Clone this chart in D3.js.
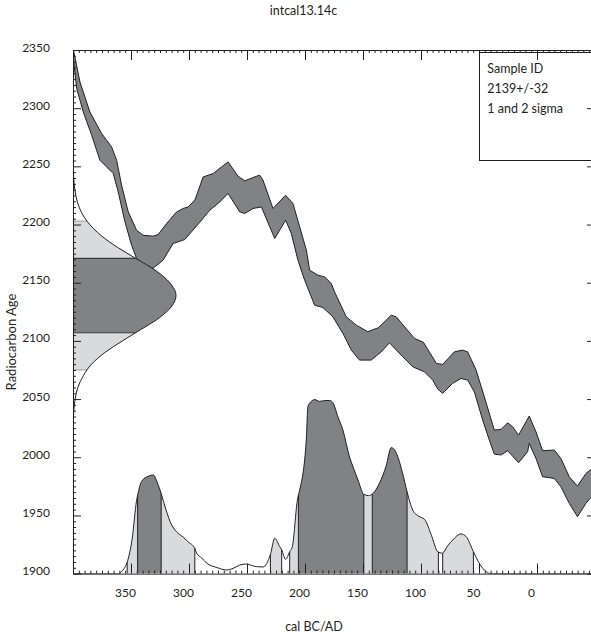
<!DOCTYPE html>
<meta charset='utf-8'>
<style>
	body {
		margin: 0;
		background: #fff;
	}

	svg {
		display: block;
		font-family: Lato, 'Open Sans', sans-serif;
	}

	text {
		fill: #231f20;
	}

	.axis path, .axis line {
		stroke: #231f20;
		stroke-width: 1px;
	}
</style>
<body>
<script src='https://cdn.jsdelivr.net/npm/d3@7/dist/d3.min.js'></script>

<script type='text/javascript'>
	// text
	var title = 'intcal13.14c';
	var xTitle = 'cal BC/AD';
	var yTitle = 'Radiocarbon Age';
	var legendLines = ['Sample ID', '2139+/-32', '1 and 2 sigma'];

	// ticks
	var xTicks = [350, 300, 250, 200, 150, 100, 50, 0];
	var yTicks = [1900, 1950, 2000, 2050, 2100, 2150, 2200, 2250, 2300, 2350];

	// calibration curve band, [year BC, radiocarbon age]
	var upperEdge = [
		[400, 2352], [394, 2322.5], [385.4, 2296.7], [375.3, 2278.2], [371, 2272.4], [366.7, 2266.7],
		[362.4, 2255.3], [358.1, 2233.8], [352.4, 2210.9], [345.2, 2195.1], [339.5, 2190.8], [330.9, 2190],
		[326.6, 2191.4], [319.3, 2200.9], [310.7, 2210.8], [305.1, 2213.8], [300.8, 2215.1], [295, 2220.9],
		[287.8, 2240.9], [279.2, 2243.8], [272, 2249.5], [266.3, 2253.8], [257.7, 2241.5], [251.9, 2237.6],
		[241.9, 2241.5], [239, 2242.4], [236.2, 2238.1], [227.6, 2213.8], [216.7, 2225.2], [210.4, 2218.1],
		[204.6, 2198], [198.8, 2178], [196, 2160.8], [188.9, 2156.5], [183.1, 2155], [177.3, 2149.3],
		[174.5, 2142.1], [164.4, 2120.7], [155.8, 2113.5], [145.8, 2107.9], [136.6, 2111.4], [125.7, 2122.1],
		[121.4, 2120.7], [105.6, 2102.1], [97.9, 2098.8], [86.7, 2080.6], [81.3, 2079.8], [71.2, 2090.6],
		[64.1, 2092.1], [59.8, 2090.6], [52.5, 2074.9], [45.4, 2051.9], [36.8, 2023.4], [31, 2023.9],
		[25.3, 2029.6], [21, 2026.2], [15.9, 2019], [6.7, 2035.4], [0.9, 2021.9], [-4.8, 2005.6],
		[-14.9, 2006.2], [-20.6, 1999], [-27.8, 1983.2], [-34.9, 1975.2], [-42.2, 1986.1], [-45.9, 1989],
		[-50, 1992]
	];
	var lowerEdge = [
		[400, 2345], [396.8, 2316.8], [391.1, 2296.7], [383.9, 2276.7], [376.8, 2255.3], [371, 2249.5],
		[365.3, 2243.8], [361, 2228], [355.2, 2202.3], [349.5, 2182.2], [345.2, 2170.8], [338, 2165.1],
		[330.9, 2162.5], [322.3, 2169.4], [313.7, 2183.7], [303.6, 2187.1], [290.7, 2202], [282.1, 2212.3],
		[273.5, 2219.4], [266.3, 2226.7], [256.3, 2210.9], [252, 2209.5], [244.8, 2213.8], [237.6, 2215.1],
		[226.1, 2188], [216.7, 2203.7], [211.8, 2192.3], [206.1, 2169.4], [200.3, 2152.2], [191.7, 2130.7],
		[184.6, 2128.7], [176, 2120.7], [167.3, 2106.4], [160.1, 2092.1], [153, 2083.5], [142.9, 2083.5],
		[134.3, 2090.6], [127.2, 2098.3], [115.7, 2086.3], [107.1, 2077.7], [97, 2073.4], [89.9, 2066.3],
		[85.6, 2058.6], [81.3, 2054.9], [72.7, 2063.5], [65.5, 2067.7], [59.8, 2066.3], [54, 2056.2],
		[46.8, 2031.9], [41.1, 2014.7], [36.8, 2002.7], [31, 2001.9], [25.3, 2005.6], [15.9, 1995.3],
		[8.1, 2004.7], [6.7, 2011.9], [0.9, 1999], [-4.8, 1983.2], [-14.9, 1981.8], [-20.6, 1974.6],
		[-27.8, 1960.4], [-34.9, 1948.9], [-42.2, 1960.4], [-45.9, 1964.7], [-50, 1968]
	];

	// radiocarbon measurement, [age, relative density]
	var c14Ages = [2350, 2280, 2260, 2240, 2230, 2220, 2210, 2203, 2190, 2180, 2171, 2160, 2150, 2139,
		2130, 2120, 2107, 2100, 2090, 2080, 2075, 2070, 2060, 2050, 2040, 2030];
	var c14Density = [0, 0.0002, 0.0008, 0.007, 0.018, 0.041, 0.085, 0.135, 0.28, 0.44, 0.607, 0.81, 0.94, 1,
		0.96, 0.84, 0.607, 0.48, 0.31, 0.18, 0.135, 0.1, 0.047, 0.021, 0.008, 0.003];
	var c14Sigma1 = [2107, 2171];
	var c14Sigma2 = [2075, 2203];

	// calibrated distribution, [year BC, relative probability]
	var calYears = [400, 361, 357, 353.3, 349, 345.2, 344.3, 340.9, 335, 330.9, 326.6, 324, 320, 315, 310.7,
		305, 301, 295, 293.5, 289, 284.9, 276, 267.7, 262, 256.3, 250.5, 245, 241.9, 236.2, 229.8, 226.1,
		221.8, 220.1, 216.7, 213.2, 210.9, 206.6, 205.7, 204.6, 198.9, 197.5, 194.5, 191.7, 187.4, 182,
		178.8, 176, 171.6, 167.3, 161.6, 158.7, 154.4, 149.3, 145.2, 142, 140.1, 135.8, 130, 125.7, 121.4,
		116, 112, 107.1, 102, 97, 91, 85.6, 85, 81.8, 81.3, 77, 72.7, 65.5, 61.1, 55.5, 54.8, 49.7, 43.9,
		39.6, -50];
	var calProb = [0, 0, 0.02, 0.065, 0.2, 0.42, 0.45, 0.53, 0.56, 0.567, 0.51, 0.46, 0.37, 0.28, 0.24,
		0.21, 0.184, 0.145, 0.118, 0.09, 0.061, 0.035, 0.021, 0.03, 0.049, 0.055, 0.045, 0.04, 0.038, 0.11,
		0.203, 0.155, 0.136, 0.082, 0.126, 0.155, 0.42, 0.45, 0.48, 0.77, 0.96, 0.99, 1, 0.99, 0.995,
		0.995, 0.983, 0.9, 0.825, 0.67, 0.615, 0.54, 0.456, 0.448, 0.457, 0.47, 0.52, 0.62, 0.724, 0.695,
		0.58, 0.47, 0.365, 0.33, 0.312, 0.22, 0.126, 0.124, 0.117, 0.118, 0.16, 0.193, 0.228, 0.213, 0.136,
		0.126, 0.059, 0.011, 0, 0];
	var calSigma1 = [[344.3, 324], [205.7, 149.3], [142, 112]];
	var calSigma2 = [[353.3, 295], [229.8, 220.1], [213.2, 85], [81.3, 54.8]];

	var W = 591, H = 635;
	var box = {l: 73, r: 595, t: 50, b: 573.6};
	var dark = '#808285', light = '#d9dadb', ink = '#231f20';

	var x = d3.scaleLinear().domain([400, -50]).range([box.l, box.r]);
	var y = d3.scaleLinear().domain([1900, 2350]).range([box.b, box.t]);
	var gx = d3.scaleLinear().domain([0, 1]).range([box.l, box.l + 103]);
	var py = d3.scaleLinear().domain([0, 1]).range([box.b, box.b - 174]);

	var svg = d3.select('body').append('svg').attr('width', W).attr('height', H);
	var defs = svg.append('defs');

	defs.append('clipPath').attr('id', 'plot').append('rect')
		.attr('x', box.l).attr('y', box.t).attr('width', box.r - box.l).attr('height', box.b - box.t);

	function clipRect(id, x0, y0, x1, y1) {
		defs.append('clipPath').attr('id', id).append('rect')
			.attr('x', Math.min(x0, x1)).attr('y', Math.min(y0, y1))
			.attr('width', Math.abs(x1 - x0)).attr('height', Math.abs(y1 - y0));
		return 'url(#' + id + ')';
	}

	var g = svg.append('g').attr('clip-path', 'url(#plot)');

	// calibration curve
	var band = upperEdge.concat(lowerEdge.slice().reverse());
	g.append('path')
		.attr('d', d3.line().x(function (d) { return x(d[0]); }).y(function (d) { return y(d[1]); })(band) + 'Z')
		.attr('fill', dark).attr('stroke', ink).attr('stroke-width', 1).attr('stroke-linejoin', 'round');

	// radiocarbon age distribution on the y axis
	var c14 = c14Ages.map(function (a, i) { return {a: a, p: c14Density[i]}; });
	var c14Area = d3.area().curve(d3.curveMonotoneY)
		.y(function (d) { return y(d.a); }).x0(box.l).x1(function (d) { return gx(d.p); });
	var c14Line = d3.line().curve(d3.curveMonotoneY)
		.y(function (d) { return y(d.a); }).x(function (d) { return gx(d.p); });

	g.append('path').attr('d', c14Area(c14)).attr('fill', light)
		.attr('clip-path', clipRect('c2', box.l, y(c14Sigma2[0]), box.r, y(c14Sigma2[1])));
	g.append('path').attr('d', c14Area(c14)).attr('fill', dark)
		.attr('clip-path', clipRect('c1', box.l, y(c14Sigma1[0]), box.r, y(c14Sigma1[1])));

	function c14At(a) {
		return c14.find(function (d) { return d.a === a; }).p;
	}

	c14Sigma2.forEach(function (a) {
		g.append('line').attr('x1', box.l).attr('x2', gx(c14At(a))).attr('y1', y(a)).attr('y2', y(a))
			.attr('stroke', '#8a8b8d').attr('stroke-width', 0.8);
	});
	c14Sigma1.forEach(function (a) {
		g.append('line').attr('x1', box.l).attr('x2', gx(c14At(a))).attr('y1', y(a)).attr('y2', y(a))
			.attr('stroke', '#3d3b3c').attr('stroke-width', 1.2);
	});
	g.append('path').attr('d', c14Line(c14)).attr('fill', 'none').attr('stroke', ink).attr('stroke-width', 1);

	// calibrated distribution on the x axis
	var cal = calYears.map(function (t, i) { return {t: t, p: calProb[i]}; });
	var calArea = d3.area().curve(d3.curveMonotoneX)
		.x(function (d) { return x(d.t); }).y0(box.b).y1(function (d) { return py(d.p); });
	var calLine = d3.line().curve(d3.curveMonotoneX)
		.x(function (d) { return x(d.t); }).y(function (d) { return py(d.p); });

	calSigma2.forEach(function (r, i) {
		g.append('path').attr('d', calArea(cal)).attr('fill', light)
			.attr('clip-path', clipRect('s2_' + i, x(r[0]), box.t, x(r[1]), box.b));
	});
	calSigma1.forEach(function (r, i) {
		g.append('path').attr('d', calArea(cal)).attr('fill', dark)
			.attr('clip-path', clipRect('s1_' + i, x(r[0]), box.t, x(r[1]), box.b));
	});

	function calAt(t) {
		return cal.find(function (d) { return d.t === t; }).p;
	}

	calSigma2.concat(calSigma1).forEach(function (r) {
		r.forEach(function (t) {
			g.append('line').attr('x1', x(t)).attr('x2', x(t)).attr('y1', box.b).attr('y2', py(calAt(t)))
				.attr('stroke', ink).attr('stroke-width', 1);
		});
	});
	g.append('path').attr('d', calLine(cal)).attr('fill', 'none').attr('stroke', ink).attr('stroke-width', 1);

	// axes
	var xMinor = d3.range(395, -50, -5).filter(function (v) { return v % 50 !== 0; });
	var yMinor = d3.range(1905, 2350, 5).filter(function (v) { return v % 50 !== 0; });

	function addAxis(axis, tx, ty, labels) {
		var a = svg.append('g').attr('class', 'axis').attr('transform', 'translate(' + tx + ',' + ty + ')').call(axis);
		if (!labels) a.selectAll('text').remove();
		a.selectAll('text').attr('fill', ink).style('font-size', '12px').style('font-family', 'Lato, sans-serif');
		return a;
	}

	addAxis(d3.axisBottom(x).tickValues(xTicks).tickFormat(d3.format('d'))
		.tickSizeInner(-10).tickSizeOuter(0).tickPadding(15), 0, box.b, true)
		.selectAll('text').attr('dx', -6);
	addAxis(d3.axisBottom(x).tickValues(xMinor).tickSizeInner(-3).tickSizeOuter(0), 0, box.b, false)
		.select('.domain').remove();
	addAxis(d3.axisTop(x).tickValues(xTicks).tickSizeInner(-10).tickSizeOuter(0), 0, box.t, false);
	addAxis(d3.axisTop(x).tickValues(xMinor).tickSizeInner(-3).tickSizeOuter(0), 0, box.t, false)
		.select('.domain').remove();

	addAxis(d3.axisLeft(y).tickValues(yTicks).tickFormat(d3.format('d'))
		.tickSizeInner(-8).tickSizeOuter(0).tickPadding(23), box.l, 0, true)
		.selectAll('text').attr('dy', '1px');
	addAxis(d3.axisLeft(y).tickValues(yMinor).tickSizeInner(-3).tickSizeOuter(0), box.l, 0, false)
		.select('.domain').remove();
	addAxis(d3.axisRight(y).tickValues(yTicks).tickSizeInner(-8).tickSizeOuter(0), box.r, 0, false);

	// legend
	svg.append('rect').attr('x', 479.5).attr('y', 52.5).attr('width', 130).attr('height', 108)
		.attr('fill', 'none').attr('stroke', ink).attr('stroke-width', 1);
	svg.selectAll('.legend').data(legendLines).enter().append('text')
		.attr('x', 487.3).attr('y', function (d, i) { return 72.7 + i * 20; })
		.style('font-size', '12.5px').text(function (d) { return d; });

	// titles
	svg.append('text').attr('x', 303.5).attr('y', 14.5).attr('text-anchor', 'middle')
		.style('font-size', '12.5px').text(title);
	svg.append('text').attr('x', 314).attr('y', 631).attr('text-anchor', 'middle')
		.style('font-size', '12.5px').text(xTitle);
	svg.append('text').attr('transform', 'translate(15.5,342) rotate(-90)').attr('text-anchor', 'middle')
		.style('font-size', '13px').text(yTitle);
</script>
